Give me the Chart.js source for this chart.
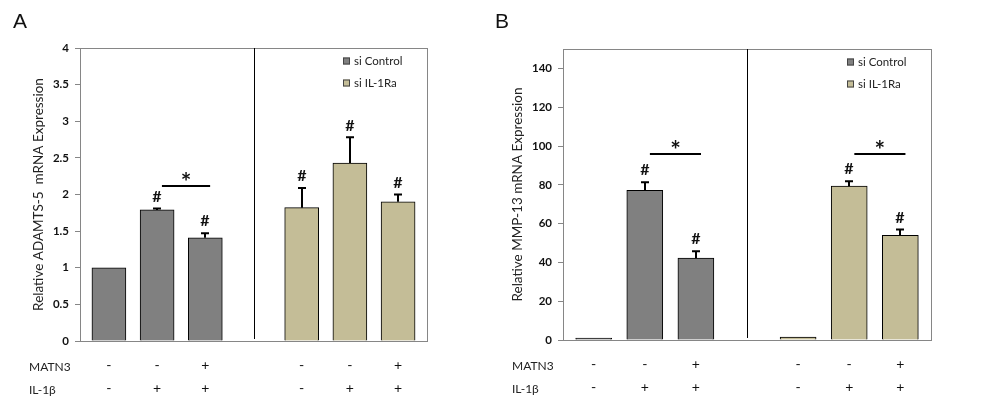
<!DOCTYPE html>
<html>
<head>
<meta charset="utf-8">
<script src="https://cdn.jsdelivr.net/npm/chart.js@4.4.0/dist/chart.umd.min.js"></script>
<style>
  body { margin: 0; background: #fff; width: 1000px; height: 404px; overflow: hidden; position: relative; }
  .panel { position: absolute; top: 0; width: 500px; height: 404px; }
  .letter { position: absolute; top: 9px; font: 21px "Liberation Sans", Arial, sans-serif; color: #111; }
</style>
</head>
<body>
<div class="panel" style="left:0"><canvas id="chartA" width="500" height="404"></canvas></div>
<div class="panel" style="left:500px"><canvas id="chartB" width="500" height="404"></canvas></div>
<div class="letter" style="left:13px">A</div>
<div class="letter" style="left:495px">B</div>
<script>
// bar positions (slot 3 is the empty gap with the divider)
const posControl = [0, 1, 2];
const posIL = [4, 5, 6];
const tickPos = [0, 1, 2, 4, 5, 6];
const matn3Row = ["-", "-", "+", "-", "-", "+"];
const il1bRow = ["-", "+", "+", "-", "+", "+"];
const rowNames = ["MATN3", "IL-1\u03b2"];
const legendLabels = ["si Control", "si IL-1Ra"];

// panel A: ADAMTS-5
const adamtsControl = [1.0, 1.79, 1.41];
const adamtsControlErr = [0, 0.02, 0.06];
const adamtsIL = [1.82, 2.43, 1.90];
const adamtsILErr = [0.27, 0.35, 0.10];
const adamtsMarkControl = [false, true, true];
const adamtsMarkIL = [true, true, true];
const adamtsSig = [{ from: 1, to: 2, y: 2.12 }];
const adamtsTicks = [0, 0.5, 1, 1.5, 2, 2.5, 3, 3.5, 4];

// panel B: MMP-13
const mmpControl = [1.0, 77.2, 42.2];
const mmpControlErr = [0, 4.1, 3.6];
const mmpIL = [1.5, 79.3, 54.0];
const mmpILErr = [0, 2.5, 3.0];
const mmpMarkControl = [false, true, true];
const mmpMarkIL = [false, true, true];
const mmpSig = [{ from: 1, to: 2, y: 95.7 }, { from: 5, to: 6, y: 95.7 }];
const mmpTicks = [0, 20, 40, 60, 80, 100, 120, 140];

const colControl = "#808080";
const colIL = "#C4BD97";
const frameCol = "#868686";
const font = "Lato, 'Open Sans', sans-serif";

const extras = {
  id: "extras",
  beforeDatasetsDraw(chart) {
    const { ctx, chartArea: a } = chart;
    ctx.save();
    ctx.strokeStyle = frameCol;
    ctx.lineWidth = 1;
    ctx.strokeRect(Math.round(a.left) + 0.5, Math.round(a.top) + 0.5,
      Math.round(a.right - a.left), Math.round(a.bottom - a.top));
    // divider between the two groups
    const dx = Math.round(chart.scales.x.getPixelForValue(3)) + 0.5;
    ctx.strokeStyle = "#000";
    ctx.beginPath();
    ctx.moveTo(dx, a.top);
    ctx.lineTo(dx, a.bottom - 2);
    ctx.stroke();
    ctx.restore();
  },
  afterDatasetsDraw(chart, args, opts) {
    const { ctx, chartArea: a, scales: { x, y } } = chart;
    ctx.save();
    // error bars and # marks
    chart.data.datasets.forEach((ds) => {
      ds.data.forEach((p, i) => {
        const px = Math.round(x.getPixelForValue(p.x));
        const top = y.getPixelForValue(p.y + ds.err[i]);
        const base = y.getPixelForValue(p.y);
        ctx.strokeStyle = "#000";
        ctx.lineWidth = 2;
        if (ds.err[i] > 0) {
          ctx.beginPath();
          ctx.moveTo(px, base);
          ctx.lineTo(px, top);
          ctx.moveTo(px - 4, top);
          ctx.lineTo(px + 4, top);
          ctx.stroke();
        }
        if (ds.mark[i]) {
          ctx.fillStyle = "#111";
          ctx.font = "bold 16px " + font;
          ctx.textAlign = "center";
          ctx.textBaseline = "middle";
          ctx.fillText("#", px, top - 12);
        }
      });
    });
    // significance lines with *
    opts.sig.forEach((s) => {
      const x1 = x.getPixelForValue(s.from + 0.1);
      const x2 = x.getPixelForValue(s.to + 0.1);
      const ly = Math.round(y.getPixelForValue(s.y));
      ctx.strokeStyle = "#000";
      ctx.lineWidth = 2;
      ctx.beginPath();
      ctx.moveTo(x1, ly);
      ctx.lineTo(x2, ly);
      ctx.stroke();
      ctx.fillStyle = "#111";
      ctx.font = "bold 25px " + font;
      ctx.textAlign = "center";
      ctx.textBaseline = "middle";
      ctx.fillText("*", (x1 + x2) / 2, ly - 3);
    });
    // legend inside the plot, top right
    chart.data.datasets.forEach((ds, di) => {
      const lx = a.right - 84;
      const ly = a.top + 13 + di * 22;
      ctx.fillStyle = ds.backgroundColor;
      ctx.fillRect(lx, ly - 3.5, 7, 7);
      ctx.strokeStyle = "#444";
      ctx.lineWidth = 1;
      ctx.strokeRect(lx + 0.5, ly - 3.5 + 0.5, 6, 6);
      ctx.fillStyle = "#222";
      ctx.font = "11.5px " + font;
      ctx.textAlign = "left";
      ctx.textBaseline = "middle";
      ctx.fillText(ds.label, lx + 11, ly);
    });
    // row names under the x axis
    ctx.fillStyle = "#222";
    ctx.font = "12px " + font;
    ctx.textAlign = "left";
    ctx.textBaseline = "middle";
    rowNames.forEach((n, i) => {
      ctx.fillText(n, a.left - 51, x.top + 26 + i * 23);
    });
    ctx.restore();
  }
};

function makeChart(id, cfg) {
  const toPts = (pos, vals) => pos.map((p, i) => ({ x: p, y: vals[i] }));
  return new Chart(document.getElementById(id), {
    type: "bar",
    data: {
      datasets: [
        {
          label: legendLabels[0],
          data: toPts(posControl, cfg.control),
          err: cfg.controlErr,
          mark: cfg.markControl,
          backgroundColor: colControl,
          borderColor: "#000",
          borderWidth: 1,
          barThickness: cfg.barW
        },
        {
          label: legendLabels[1],
          data: toPts(posIL, cfg.il),
          err: cfg.ilErr,
          mark: cfg.markIL,
          backgroundColor: colIL,
          borderColor: "#000",
          borderWidth: 1,
          barThickness: cfg.barW
        }
      ]
    },
    options: {
      responsive: false,
      devicePixelRatio: 1,
      animation: false,
      grouped: false,
      layout: { padding: { left: cfg.padLeft, top: cfg.padTop, right: cfg.padRight, bottom: 0 } },
      plugins: {
        legend: { display: false },
        tooltip: { enabled: false },
        extras: { sig: cfg.sig }
      },
      scales: {
        x: {
          type: "linear",
          min: -0.6,
          max: 6.6,
          offset: false,
          grid: { display: false, offset: false },
          border: { display: false },
          afterBuildTicks: (s) => { s.ticks = tickPos.map((v) => ({ value: v })); },
          afterFit: (s) => { s.height = cfg.xH; },
          ticks: {
            padding: 5,
            color: "#111",
            font: { family: font, size: 14, lineHeight: "23px" },
            maxRotation: 0,
            autoSkip: false,
            callback: (v) => {
              const i = tickPos.indexOf(v);
              return [matn3Row[i], il1bRow[i]];
            }
          }
        },
        y: {
          min: 0,
          max: cfg.yMax,
          border: { display: false },
          grid: { drawOnChartArea: false, drawTicks: true, tickLength: 5, color: frameCol },
          afterBuildTicks: (s) => { s.ticks = cfg.yTicks.map((v) => ({ value: v })); },
          afterFit: (s) => { s.width = cfg.yW; },
          ticks: {
            padding: 6,
            color: "#111",
            font: { family: font, size: 11.5, weight: "bold" },
            callback: (v) => String(v)
          },
          title: {
            display: true,
            text: cfg.title,
            color: "#222",
            padding: { top: 0, bottom: 0 },
            font: { family: font, size: 13.5, lineHeight: 1.2 }
          }
        }
      }
    },
    plugins: [extras]
  });
}

makeChart("chartA", {
  control: adamtsControl, controlErr: adamtsControlErr, markControl: adamtsMarkControl,
  il: adamtsIL, ilErr: adamtsILErr, markIL: adamtsMarkIL,
  sig: adamtsSig, yMax: 4, yTicks: adamtsTicks,
  title: "Relative ADAMTS-5  mRNA Expression",
  padLeft: 31, yW: 49, padTop: 48, padRight: 73, xH: 63, barW: 34
});

makeChart("chartB", {
  control: mmpControl, controlErr: mmpControlErr, markControl: mmpMarkControl,
  il: mmpIL, ilErr: mmpILErr, markIL: mmpMarkIL,
  sig: mmpSig, yMax: 150, yTicks: mmpTicks,
  title: "Relative MMP-13 mRNA Expression",
  padLeft: 10, yW: 53, padTop: 49, padRight: 69, xH: 64, barW: 36
});
</script>
</body>
</html>
